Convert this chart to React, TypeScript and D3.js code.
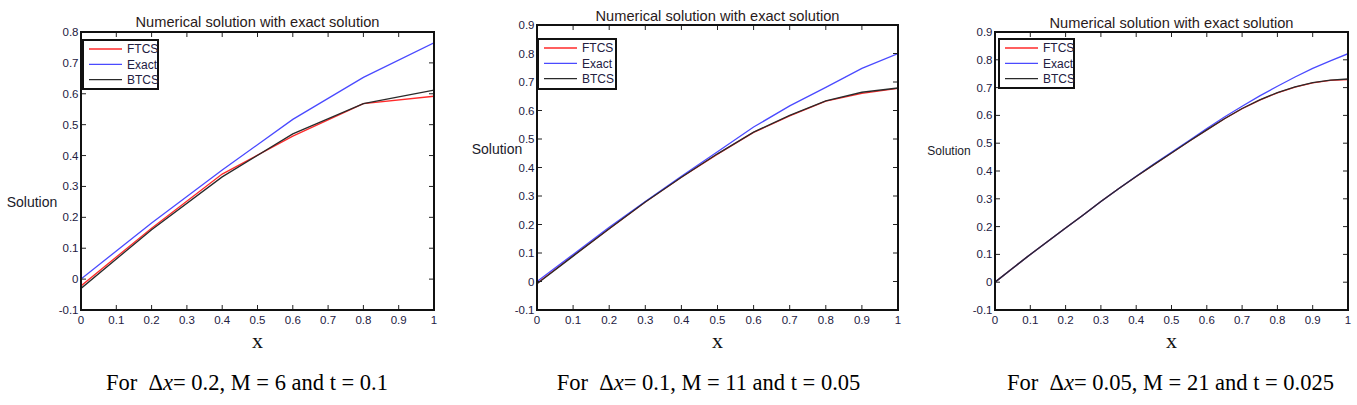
import React from "react";
import { scaleLinear, line } from "d3";

// panel 1: dx = 0.2, M = 6
const x1 = [0, 0.2, 0.4, 0.6, 0.8, 1.0];
const ftcs1 = [-0.022, 0.165, 0.34, 0.463, 0.568, 0.592];
const exact1 = [0.0, 0.182, 0.353, 0.517, 0.653, 0.765];
const btcs1 = [-0.03, 0.16, 0.331, 0.47, 0.568, 0.612];

// panel 2: dx = 0.1, M = 11
const x2 = [0, 0.1, 0.2, 0.3, 0.4, 0.5, 0.6, 0.7, 0.8, 0.9, 1.0];
const ftcs2 = [-0.006, 0.09, 0.185, 0.279, 0.366, 0.447, 0.523, 0.581, 0.633, 0.66, 0.678];
const exact2 = [0.0, 0.095, 0.19, 0.281, 0.369, 0.455, 0.542, 0.616, 0.681, 0.748, 0.8];
const btcs2 = [-0.008, 0.089, 0.185, 0.279, 0.366, 0.448, 0.524, 0.583, 0.634, 0.664, 0.679];

// panel 3: dx = 0.05, M = 21
const x3 = [0, 0.05, 0.1, 0.15, 0.2, 0.25, 0.3, 0.35, 0.4, 0.45, 0.5, 0.55, 0.6, 0.65, 0.7, 0.75, 0.8, 0.85, 0.9, 0.95, 1.0];
const exact3 = [0, 0.05, 0.1, 0.147, 0.195, 0.242, 0.29, 0.336, 0.381, 0.425, 0.467, 0.51, 0.553, 0.594, 0.633, 0.67, 0.705, 0.738, 0.769, 0.796, 0.822];
const ftcs3 = [0, 0.05, 0.1, 0.147, 0.195, 0.242, 0.29, 0.336, 0.38, 0.423, 0.465, 0.507, 0.548, 0.588, 0.624, 0.655, 0.681, 0.702, 0.717, 0.726, 0.729];
const btcs3 = [0, 0.05, 0.1, 0.147, 0.195, 0.242, 0.29, 0.336, 0.38, 0.423, 0.465, 0.507, 0.548, 0.588, 0.625, 0.656, 0.682, 0.703, 0.718, 0.727, 0.731];

const seriesNames = ["FTCS", "Exact", "BTCS"];
const seriesColors = ["#ff2a2a", "#4a4aff", "#2a2a2a"];
const titleText = "Numerical solution with exact solution";
const captions = [
  ["0.2", "6", "0.1"],
  ["0.1", "11", "0.05"],
  ["0.05", "21", "0.025"],
];

const panels = [
  {
    xs: x1, ys: [ftcs1, exact1, btcs1], yMax: 0.8,
    left: 81, right: 434, top: 32, bottom: 310,
    titleY: 26.5, yLab: { x: 32, y: 207, size: 14 }, capX: 247,
    legend: { x: 83, y: 40, w: 75, h: 49 },
  },
  {
    xs: x2, ys: [ftcs2, exact2, btcs2], yMax: 0.9,
    left: 537, right: 898, top: 25, bottom: 310,
    titleY: 20.5, yLab: { x: 497, y: 154, size: 14 }, capX: 708.5,
    legend: { x: 538, y: 39, w: 78, h: 50 },
  },
  {
    xs: x3, ys: [ftcs3, exact3, btcs3], yMax: 0.9,
    left: 995, right: 1348, top: 32, bottom: 310,
    titleY: 27.5, yLab: { x: 949, y: 155, size: 12 }, capX: 1170.5,
    legend: { x: 999, y: 39, w: 75, h: 49 },
  },
];

const fmt = (v: number) => String(+v.toFixed(1));
const textCol = "#23203f";
const sans = "Arial, 'Liberation Sans', sans-serif";
const serif = "'Liberation Serif', 'Times New Roman', serif";

function Panel({ p, idx }: { p: any; idx: number }) {
  const x = scaleLinear().domain([0, 1]).range([p.left, p.right]);
  const y = scaleLinear().domain([-0.1, p.yMax]).range([p.bottom, p.top]);
  const xt = x.ticks(10);
  const yt = y.ticks(10);
  const midX = (p.left + p.right) / 2;
  const cap = captions[idx];
  const gen = line<number>()
    .x((_, i) => x(p.xs[i]))
    .y((d) => y(d));
  const lg = p.legend;
  return (
    <g>
      <text x={midX} y={p.titleY} textAnchor="middle" fontSize={15}
        textLength={244} lengthAdjust="spacingAndGlyphs"
        fill="#2a1a1a" fontFamily={sans}>
        {titleText}
      </text>
      {/* data lines */}
      <g clipPath={`url(#clip${idx})`}>
        {p.ys.map((s: number[], i: number) => (
          <path key={i} d={gen(s) || ""} fill="none" stroke={seriesColors[i]} strokeWidth={1.3} />
        ))}
      </g>
      {/* ticks, inward on all four sides */}
      {xt.map((t) => (
        <g key={"x" + t}>
          <line x1={x(t)} x2={x(t)} y1={p.bottom} y2={p.bottom - 5} stroke="#222" />
          <line x1={x(t)} x2={x(t)} y1={p.top} y2={p.top + 5} stroke="#222" />
          <text x={x(t)} y={p.bottom + 13.5} textAnchor="middle" fontSize={11.5} fill={textCol}
            fontFamily={sans}>{fmt(t)}</text>
        </g>
      ))}
      {yt.map((t) => (
        <g key={"y" + t}>
          <line x1={p.left} x2={p.left + 5} y1={y(t)} y2={y(t)} stroke="#222" />
          <line x1={p.right} x2={p.right - 5} y1={y(t)} y2={y(t)} stroke="#222" />
          <text x={p.left - 2.5} y={y(t)} dy="0.35em" textAnchor="end" fontSize={11.5} fill={textCol}
            fontFamily={sans}>{fmt(t)}</text>
        </g>
      ))}
      <rect x={p.left} y={p.top} width={p.right - p.left} height={p.bottom - p.top}
        fill="none" stroke="#111" strokeWidth={2} />
      {/* legend */}
      <rect x={lg.x} y={lg.y} width={lg.w} height={lg.h} fill="#fff" stroke="#111" strokeWidth={2} />
      {seriesNames.map((n, i) => {
        const ry = lg.y + 9 + i * 15.3;
        return (
          <g key={n}>
            <line x1={lg.x + 6} x2={lg.x + 39} y1={ry} y2={ry} stroke={seriesColors[i]} strokeWidth={1.3} />
            <text x={lg.x + 44} y={ry + 4.2} fontSize={12} fill={textCol} fontFamily={sans}>{n}</text>
          </g>
        );
      })}
      <text x={p.yLab.x} y={p.yLab.y} textAnchor="middle" fontSize={p.yLab.size} fill="#1a1a2a"
        fontFamily={sans}>Solution</text>
      <text x={midX} y={348} textAnchor="middle" fontSize={22} fill="#111" fontFamily={serif}>x</text>
      <text x={p.capX} y={390} textAnchor="middle" fontSize={22.5} fill="#000" fontFamily={serif}>
        {"For\u00a0\u00a0Δ"}<tspan fontStyle="italic">x</tspan>{`= ${cap[0]}, M = ${cap[1]} and t = ${cap[2]}`}
      </text>
    </g>
  );
}

export default function App() {
  return (
    <svg width={1357} height={405} style={{ position: "absolute", left: 0, top: 0, background: "#fff" }}>
      <defs>
        {panels.map((p, i) => (
          <clipPath id={"clip" + i} key={i}>
            <rect x={p.left} y={p.top} width={p.right - p.left} height={p.bottom - p.top} />
          </clipPath>
        ))}
      </defs>
      <rect width={1357} height={405} fill="#fff" />
      {panels.map((p, i) => (
        <Panel key={i} p={p} idx={i} />
      ))}
    </svg>
  );
}
